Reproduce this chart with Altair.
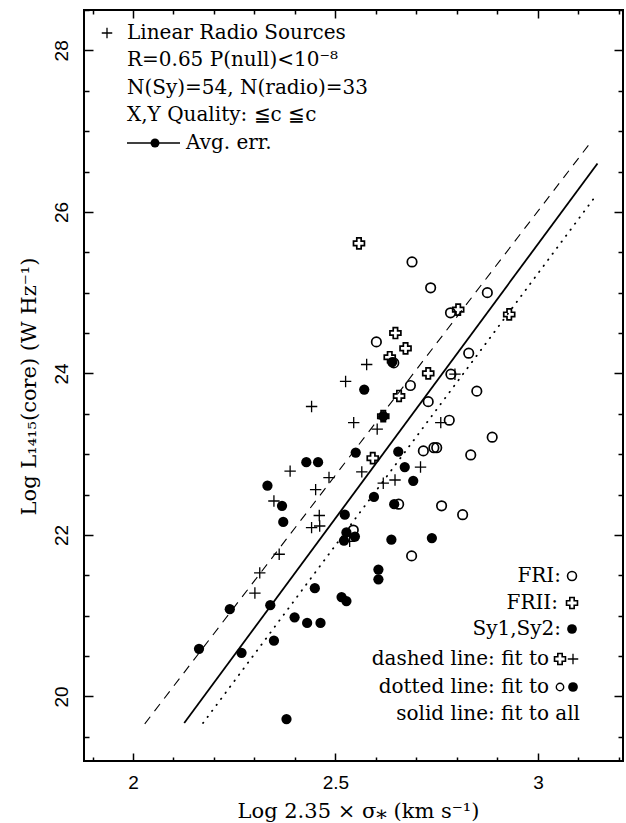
import altair as alt
import pandas as pd

# ---------------- data ----------------
# Linear radio sources (+)
plus_x = [2.577, 2.525, 2.795, 2.441, 2.545, 2.603, 2.760, 2.710, 2.388, 2.565, 2.484,
          2.647, 2.618, 2.451, 2.348, 2.460, 2.441, 2.461, 2.535, 2.361, 2.313, 2.301]
plus_y = [24.11, 23.90, 23.99, 23.59, 23.39, 23.31, 23.39, 22.84, 22.79, 22.78, 22.71,
          22.68, 22.64, 22.56, 22.42, 22.24, 22.09, 22.11, 21.92, 21.76, 21.53, 21.28]

# FRII sources (open cross)
frii_x = [2.558, 2.803, 2.929, 2.648, 2.673, 2.634, 2.729, 2.657, 2.618, 2.592]
frii_y = [25.61, 24.79, 24.73, 24.50, 24.31, 24.20, 24.00, 23.72, 23.47, 22.95]

# FRI sources (open circle)
fri_x = [2.689, 2.735, 2.875, 2.784, 2.601, 2.644, 2.829, 2.785, 2.849, 2.685, 2.729,
         2.781, 2.887, 2.717, 2.743, 2.750, 2.834, 2.656, 2.762, 2.814, 2.544, 2.688]
fri_y = [25.38, 25.06, 25.00, 24.75, 24.39, 24.13, 24.25, 23.99, 23.78, 23.85, 23.65,
         23.42, 23.21, 23.04, 23.08, 23.08, 22.99, 22.38, 22.36, 22.25, 22.06, 21.74]

# Seyferts Sy1, Sy2 (filled circle)
sy_x = [2.571, 2.618, 2.550, 2.655, 2.428, 2.457, 2.671, 2.692, 2.332, 2.595, 2.368,
        2.645, 2.523, 2.371, 2.527, 2.548, 2.521, 2.638, 2.738, 2.606, 2.606, 2.449,
        2.515, 2.527, 2.239, 2.339, 2.399, 2.430, 2.463, 2.348, 2.163, 2.268, 2.379, 2.640]
sy_y = [23.80, 23.47, 23.02, 23.03, 22.90, 22.90, 22.84, 22.67, 22.61, 22.47, 22.36,
        22.38, 22.25, 22.16, 22.03, 21.98, 21.93, 21.94, 21.96, 21.57, 21.45, 21.34,
        21.23, 21.18, 21.08, 21.13, 20.98, 20.91, 20.91, 20.69, 20.59, 20.54, 19.72, 24.14]

# Fit lines (end points)
dash_x = [2.029, 3.130]
dash_y = [19.66, 26.86]
solid_x = [2.1265, 3.147]
solid_y = [19.67, 26.60]
dot_x = [2.173, 3.140]
dot_y = [19.67, 26.18]

x_major = [2, 2.5, 3]
x_minor = [1.9, 2.1, 2.2, 2.3, 2.4, 2.6, 2.7, 2.8, 2.9, 3.1, 3.2]
y_major = [20, 22, 24, 26, 28]
y_minor = [19.5, 20.5, 21, 21.5, 22.5, 23, 23.5, 24.5, 25, 25.5, 26.5, 27, 27.5, 28.5]

# ---------------- layout ----------------
W, H = 539, 751
SERIF = "DejaVu Serif"
SANS = "Liberation Sans"
FS = 20
TFS = 21

xs = alt.Scale(domain=[1.879, 3.21], nice=False, zero=False)
ys = alt.Scale(domain=[19.2, 28.5], nice=False, zero=False)


def df(xv, yv):
    return pd.DataFrame({"x": xv, "y": yv})


axis_data = df(sy_x, sy_y)


def axis_carrier(xaxis, yaxis):
    return alt.Chart(axis_data).mark_point(opacity=0).encode(
        x=alt.X("x:Q", scale=xs, axis=xaxis),
        y=alt.Y("y:Q", scale=ys, axis=yaxis),
    )


def tick_axis(orient, values, size, offset):
    return alt.Axis(orient=orient, values=values, tickSize=size, offset=offset,
                    labels=False, domain=False, grid=False, title=None,
                    tickColor="black", tickWidth=1.5)


# label axes
label_layer = axis_carrier(
    alt.Axis(orient="bottom", values=x_major, labelExpr="'' + datum.value",
             ticks=False, domain=False, grid=False,
             labelFont=SANS, labelFontSize=19, labelColor="black", labelPadding=12,
             title="Log 2.35 × σ⁎ (km s⁻¹)", titleFont=SERIF, titleFontSize=TFS,
             titleFontWeight="normal", titleColor="black",
             titleX=274, titleY=50, titleAlign="center", titleBaseline="middle"),
    alt.Axis(orient="left", values=y_major, labelAngle=270, labelAlign="center",
             labelBaseline="bottom", ticks=False, domain=False, grid=False,
             labelFont=SANS, labelFontSize=19, labelColor="black", labelPadding=13,
             title="Log L₁₄₁₅(core) (W Hz⁻¹)", titleFont=SERIF, titleFontSize=TFS,
             titleFontWeight="normal", titleColor="black", titleAngle=270,
             titleX=-55, titleY=376, titleAlign="center", titleBaseline="middle"),
)

# inward ticks on all four sides
ticks_bl_major = axis_carrier(tick_axis("top", x_major, 8, -H), tick_axis("right", y_major, 9, -W))
ticks_tr_major = axis_carrier(tick_axis("bottom", x_major, 8, -H), tick_axis("left", y_major, 9, -W))
ticks_bl_minor = axis_carrier(tick_axis("top", x_minor, 4, -H), tick_axis("right", y_minor, 5, -W))
ticks_tr_minor = axis_carrier(tick_axis("bottom", x_minor, 4, -H), tick_axis("left", y_minor, 5, -W))


# fit lines
def line_layer(xv, yv, **kw):
    return alt.Chart(df(xv, yv)).mark_line(color="black", **kw).encode(
        x=alt.X("x:Q", scale=xs, axis=None),
        y=alt.Y("y:Q", scale=ys, axis=None),
    )


dashed = line_layer(dash_x, dash_y, strokeWidth=1.1, strokeDash=[9, 7])
solid = line_layer(solid_x, solid_y, strokeWidth=1.8)
dotted = line_layer(dot_x, dot_y, strokeWidth=1.8, strokeDash=[0.5, 7], strokeCap="round")

PLUS = "M-1,0H1M0,-1V1"


def point_layer(xv, yv, **kw):
    return alt.Chart(df(xv, yv)).mark_point(color="black", opacity=1, **kw).encode(
        x=alt.X("x:Q", scale=xs, axis=None),
        y=alt.Y("y:Q", scale=ys, axis=None),
    )


sy_pts = point_layer(sy_x, sy_y, shape="circle", filled=True, size=105)
fri_pts = point_layer(fri_x, fri_y, shape="circle", filled=False, size=90, strokeWidth=1.7)
plus_pts = point_layer(plus_x, plus_y, shape=PLUS, filled=False, size=130, strokeWidth=1.3)
frii_pts = point_layer(frii_x, frii_y, shape="cross", filled=False, size=120, strokeWidth=1.7)

# annotations (pixel positions inside the frame)
blank = alt.Data(values=[{}])


def sym(shape, x, y, filled, size, sw=1.6):
    return alt.Chart(blank).mark_point(shape=shape, filled=filled, size=size, strokeWidth=sw,
                                       color="black", opacity=1).encode(
        x=alt.value(x - 84), y=alt.value(y - 10))


def tx(s, x, y, align="left"):
    return alt.Chart(blank).mark_text(text=s, align=align, baseline="middle", font=SERIF,
                                      fontSize=FS, color="black").encode(
        x=alt.value(x - 84), y=alt.value(y - 10))


ann = [
    sym(PLUS, 107, 33, False, 110, 1.3),
    tx("Linear Radio Sources", 127, 33),
    tx("R=0.65 P(null)<10⁻⁸", 127, 60),
    tx("N(Sy)=54, N(radio)=33", 127, 88),
    tx("X,Y Quality: ≦c ≦c", 127, 115),
    alt.Chart(blank).mark_rule(color="black", strokeWidth=1.3).encode(
        x=alt.value(127 - 84), x2=alt.value(180 - 84), y=alt.value(143 - 10)),
    sym("circle", 155, 143, True, 80),
    tx("Avg. err.", 186, 143),
    tx("FRI:", 561, 576, "right"),
    sym("circle", 572, 576, False, 80),
    tx("FRII:", 558, 603, "right"),
    sym("cross", 572, 603, False, 120),
    tx("Sy1,Sy2:", 561, 629, "right"),
    sym("circle", 572, 629, True, 95),
    tx("dashed line: fit to", 549, 659, "right"),
    sym("cross", 560, 659, False, 120),
    sym(PLUS, 573, 659, False, 110, 1.3),
    tx("dotted line: fit to", 549, 687, "right"),
    sym("circle", 560, 687, False, 55, 1.4),
    sym("circle", 573, 687, True, 95),
    tx("solid line: fit to all", 580, 714, "right"),
]

chart = alt.layer(
    label_layer, ticks_bl_major, ticks_tr_major, ticks_bl_minor, ticks_tr_minor,
    dashed, solid, dotted, sy_pts, fri_pts, plus_pts, frii_pts, *ann,
).resolve_axis(x="independent", y="independent").properties(
    width=W, height=H,
    autosize=alt.AutoSizeParams(type="none"),
    padding={"left": 84, "top": 10, "right": 3, "bottom": 62},
    background="white",
).configure_view(stroke="black", strokeWidth=2)

chart.save("out.html", embed_options={"renderer": "svg", "actions": False})
